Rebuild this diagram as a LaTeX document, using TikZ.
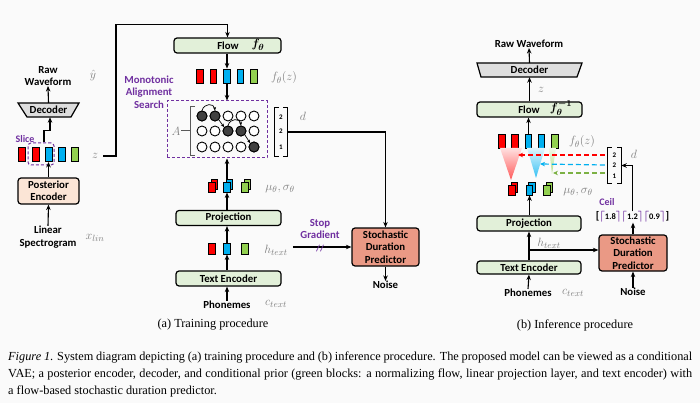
\documentclass[tikz,border=0pt]{standalone}
\usepackage{fontspec}
\usepackage{amsmath,bm}
\setmainfont{Carlito}
\newfontfamily\capfont{Liberation Serif}
\usetikzlibrary{arrows.meta,calc,shapes.geometric}
\definecolor{bgc}{RGB}{250,250,250}
\definecolor{boxgreen}{RGB}{226,240,217}
\definecolor{peach}{RGB}{251,229,214}
\definecolor{decgray}{RGB}{222,222,222}
\definecolor{salmon}{RGB}{234,153,133}
\definecolor{mpurple}{RGB}{112,48,160}
\definecolor{labgray}{RGB}{128,128,128}
\definecolor{bred}{RGB}{255,0,0}
\definecolor{bblue}{RGB}{0,176,240}
\definecolor{bgreen}{RGB}{146,208,80}
\definecolor{dotc}{RGB}{64,64,64}
\newcommand\lbl{\fontsize{10.8}{12.5}\selectfont\bfseries}
\newcommand\mlb{\fontsize{12.5}{14}\selectfont}
\newcommand\capsz{\capfont\fontsize{12.3}{14}\selectfont}
\newcommand\cl[1]{\textcolor{mpurple}{$\bm{\lceil}$}{\fontsize{8.5}{9}\selectfont #1}\textcolor{mpurple}{$\bm{\rceil}$}}
\newcommand\mubar[4]{%
  \node[bar, minimum height=10pt, fill=#4] (#1b) at (#2+2.5,#3-2.5) {};
  \node[bar, minimum height=10pt, fill=#4] (#1) at (#2,#3) {};}
\tikzset{
 blk/.style={draw, line width=1.2pt, rounded corners=3pt, font=\lbl, inner sep=0pt, align=center},
 gbox/.style={blk, fill=boxgreen, minimum width=105pt, minimum height=15pt},
 arr/.style={-{Stealth[length=5.5pt,width=4.5pt]}, line width=1.1pt},
 thinarr/.style={-{Stealth[length=3.5pt,width=3pt]}, line width=0.7pt},
 lab/.style={font=\lbl, align=center, inner sep=0pt},
 plab/.style={lab, text=mpurple},
 mlab/.style={text=labgray, font=\mlb, inner sep=0pt},
 bar/.style={draw, line width=0.9pt, minimum width=6.5pt, minimum height=14pt, inner sep=0pt},
 sbar/.style={bar, minimum height=11pt},
 dot/.style={circle, draw, line width=0.9pt, minimum size=10pt, inner sep=0pt, fill=white},
 fdot/.style={dot, fill=dotc},
 dsh/.style={draw=mpurple, line width=1pt, dash pattern=on 3pt off 2pt, inner sep=0pt},
 num/.style={font=\fontsize{7}{7}\selectfont\bfseries, inner sep=0pt},
 cdash/.style={-{Stealth[length=5pt,width=4.5pt]}, line width=1.2pt, dash pattern=on 5pt off 3pt},
}
\begin{document}
\begin{tikzpicture}[x=1pt,y=-1pt]
\useasboundingbox (0,0) rectangle (700,403);
\fill[bgc] (0,0) rectangle (700,403);
% ---------------- left (posterior) ----------------
\node[lab] (rawL) at (48,76) {Raw\\Waveform};
\node[mlab] (yh) at (93,76) {$\hat{y}$};
\draw[line width=1.2pt, fill=decgray] (18,103) -- (79,103) -- (71,117) -- (27,117) -- cycle;
\node[lab, minimum width=52pt, minimum height=14pt] (decL) at (48.5,110) {Decoder};
\draw[arr] (decL.north) -- (rawL.south);
\foreach \n/\x/\c in {l1/22/bred, l2/36/bred, l3/49/bblue, l4/62/bblue, l5/75/bgreen}
  \node[bar, fill=\c] (\n) at (\x,154.5) {};
\node[dsh, rounded corners=3pt, minimum width=26pt, minimum height=22pt] (slicebox) at (41,154) {};
\node[plab, font=\fontsize{10}{12}\selectfont\bfseries] (slice) at (25,139) {Slice};
\draw[arr] ([xshift=3pt]slicebox.north) -- ++(0,-12) -| ([xshift=1.5pt]decL.south);
\node[mlab] (zL) at (95,156) {$z$};
\node[blk, fill=peach, minimum width=61pt, minimum height=26pt] (pe) at (48.5,191) {Posterior\\Encoder};
\draw[arr] (pe.north) -- (pe.north |- l3.south);
\node[lab] (spec) at (48,237) {Linear\\Spectrogram};
\draw[arr] (spec.north) -- (pe.south);
\node[mlab] (xlin) at (95,238) {$x_{lin}$};
% ---------------- middle (training) ----------------
\node[gbox, minimum width=107pt] (flowM) at (227.5,45.5) {};
\node[lab] (flowMt) at (228,45.5) {Flow};
\node[inner sep=0pt, font=\fontsize{13}{13}\selectfont] (fth) at (258,45) {$\bm{f_\theta}$};
\draw[arr] ([xshift=5pt]zL.east) -- (116,156) |- ($(flowM.north)+(0,-13)$) -- (flowM.north);
\foreach \n/\x/\c in {m1/200/bred, m2/213.5/bred, m3/227/bblue, m4/240.5/bblue, m5/254/bgreen}
  \node[bar, fill=\c] (\n) at (\x,76) {};
\draw[arr] (m3.north |- flowM.south) -- (m3.north);
\node[mlab] (fzM) at (284,78) {$f_\theta(z)$};
\node[plab] (mas) at (149,92) {Monotonic\\Alignment\\Search};
\node[dsh, minimum width=100pt, minimum height=57pt] (masbox) at (217,129.5) {};
\draw[arr] (m3.south) -- (m3.south |- masbox.north);
\node[mlab] (A) at (176,131) {$A$};
\draw[line width=1pt, black!65] (195,107) -- (190,107) -- (190,156) -- (195,156) (190,131) -- (A.east);
\foreach \r/\y in {1/116,2/131,3/147}
  \foreach \c/\x in {1/202,2/215,3/228,4/241,5/254}
    \node[dot] (c\r\c) at (\x,\y) {};
\node[fdot] (c11) at (202,116) {};
\node[fdot] (c12) at (215,116) {};
\node[fdot] (c23) at (228,131) {};
\node[fdot] (c24) at (241,131) {};
\node[fdot] (c35) at (254,147) {};
\draw[thinarr] (c11.north) .. controls (204,103) and (214,103) .. (c12.north);
\draw[thinarr] (c12.south east) -- (c23.north west);
\draw[thinarr] (c23.north) .. controls (230,118) and (240,118) .. (c24.north);
\draw[thinarr] (c24.south east) -- (c35.north west);
\node[minimum width=12pt, minimum height=48pt, inner sep=0pt] (dvec) at (281,132) {};
\node[num] (dv1) at (281,117) {2};
\node[num] (dv2) at (281,131) {2};
\node[num] (dv3) at (281,147) {1};
\draw[line width=1.1pt] ([xshift=4pt]dvec.north west) -- (dvec.north west) -- (dvec.south west) -- ([xshift=4pt]dvec.south west);
\draw[line width=1.1pt] ([xshift=-4pt]dvec.north east) -- (dvec.north east) -- (dvec.south east) -- ([xshift=-4pt]dvec.south east);
\node[mlab] (dM) at (303,116) {$d$};
\mubar{mu1}{212}{187}{bred}
\mubar{mu2}{227}{187}{bblue}
\mubar{mu3}{245}{187}{bgreen}
\node[mlab] (muM) at (280,189) {$\mu_\theta, \sigma_\theta$};
\draw[arr] (mu2b.north -| mu2) -- (mu2.north |- masbox.south);
\node[gbox] (projM) at (228.5,218) {Projection};
\draw[arr] (mu2.south |- projM.north) -- (mu2.south);
\foreach \n/\x/\c in {h1/212/bred, h2/227/bblue, h3/245/bgreen}
  \node[sbar, fill=\c] (\n) at (\x,248.5) {};
\draw[arr] (h2.north) -- (h2.north |- projM.south);
\node[mlab] (hM) at (276,250) {$h_{text}$};
\node[gbox] (teM) at (228.5,278.5) {Text Encoder};
\draw[arr] (h2.south |- teM.north) -- (h2.south);
\node[lab] (phM) at (227,305) {Phonemes};
\draw[arr] (phM.north) -- (phM.north |- teM.south);
\node[mlab] (ctM) at (276,304) {$c_{text}$};
\node[blk, fill=salmon, minimum width=67pt, minimum height=38pt] (sdpM) at (385.5,247) {Stochastic\\Duration\\Predictor};
\draw[arr] (dvec.east) -| (sdpM.north);
\draw[arr] ([xshift=5pt]hM.east |- sdpM.west) -- (sdpM.west);
\node[plab] (stopg) at (320,229) {Stop\\Gradient};
\node[inner sep=0pt, text=mpurple, font=\fontsize{9}{9}\selectfont\bfseries] (slash) at (320,249) {//};
\node[lab] (noiseM) at (385.5,285) {Noise};
\draw[arr] (sdpM.south) -- (noiseM.north);
% ---------------- right (inference) ----------------
\node[lab] (rawR) at (529,44) {Raw Waveform};
\draw[line width=1.2pt, fill=decgray] (477,63) -- (582,63) -- (577,77) -- (481,77) -- cycle;
\node[lab, minimum width=96pt, minimum height=14pt] (decR) at (529.5,70) {Decoder};
\draw[arr] (decR.north) -- (rawR.south);
\node[gbox] (flowR) at (529.5,109.5) {};
\node[lab] (flowRt) at (529,109.5) {Flow};
\node[inner sep=0pt, font=\fontsize{13}{13}\selectfont] (fthinv) at (561,108) {$\bm{f_\theta^{-1}}$};
\draw[arr] (flowR.north) -- (decR.south);
\node[mlab] (zR) at (541,90) {$z$};
\foreach \n/\x/\c in {r1/502/bred, r2/515/bred, r3/528.5/bblue, r4/541.5/bblue, r5/555/bgreen}
  \node[bar, fill=\c] (\n) at (\x,141) {};
\draw[arr] (r3.north) -- (r3.north |- flowR.south);
\node[mlab] (fzR) at (582,142) {$f_\theta(z)$};
% shaded fans
\shade[top color=bred!12, bottom color=bred!65] (500,148) -- (522,148) -- (511,180) -- cycle;
\shade[top color=bblue!12, bottom color=bblue!80] (527,148) -- (545,148) -- (536,178) -- cycle;
\shade[top color=bgreen!12, bottom color=bgreen!70] (549,148) -- (556,148) -- (552,174) -- cycle;
\node[minimum width=13pt, minimum height=35pt, inner sep=0pt] (dvecR) at (614.5,165.5) {};
\node[num] (dr1) at (614.5,155) {2};
\node[num] (dr2) at (614.5,165) {2};
\node[num] (dr3) at (614.5,176) {1};
\draw[line width=1.1pt] ([xshift=4pt]dvecR.north west) -- (dvecR.north west) -- (dvecR.south west) -- ([xshift=4pt]dvecR.south west);
\draw[line width=1.1pt] ([xshift=-4pt]dvecR.north east) -- (dvecR.north east) -- (dvecR.south east) -- ([xshift=-4pt]dvecR.south east);
\node[mlab] (dR) at (634,154) {$d$};
\draw[cdash, color=bred] ([xshift=-3pt]dvecR.west |- dr1) -- (518,155);
\draw[cdash, color=bblue] ([xshift=-3pt]dvecR.west |- dr2) -- (540,164);
\draw[cdash, color=bgreen!85!black] ([xshift=-3pt]dvecR.west |- 0,173) -- (553,173);
\mubar{nu1}{512}{190}{bred}
\mubar{nu2}{529.5}{190}{bblue}
\mubar{nu3}{547}{190}{bgreen}
\node[mlab] (muR) at (578,192) {$\mu_\theta, \sigma_\theta$};
\node[gbox, minimum width=104pt] (projR) at (529,223.5) {Projection};
\draw[arr] (nu2.south |- projR.north) -- (nu2.south);
\node[gbox, minimum width=104pt, minimum height=13pt] (teR) at (529,267.5) {Text Encoder};
\draw[arr] (teR.north) -- (projR.south);
\coordinate (brR) at (529,250);
\node[mlab] (hR) at (549,243) {$h_{text}$};
\node[lab] (phR) at (528,293) {Phonemes};
\draw[arr] (phR.north) -- (teR.south);
\node[mlab] (ctR) at (573,293) {$c_{text}$};
\node[blk, fill=salmon, minimum width=68pt, minimum height=36pt] (sdpR) at (633,253) {Stochastic\\Duration\\Predictor};
\draw[arr] (brR) -- (brR -| sdpR.west);
\node[lab] (noiseR) at (633,292) {Noise};
\draw[arr] (noiseR.north) -- (sdpR.south);
\node[inner sep=0pt, font=\fontsize{11}{11}\selectfont\bfseries] (ceilR) at (632.5,217) {[\cl{1.8}\cl{1.2}\cl{0.9}]};
\node[plab, font=\fontsize{10}{12}\selectfont\bfseries] (ceilt) at (607,202) {Ceil};
\draw[arr] (sdpR.north) -- (sdpR.north |- ceilR.south);
\draw[arr] (ceilR.north) |- (dvecR.east);
% ---------------- captions ----------------
\node[inner sep=0pt, font=\capsz] (capa) at (213,325) {(a) Training procedure};
\node[inner sep=0pt, font=\capsz] (capb) at (575,325) {(b) Inference procedure};
\node[inner sep=0pt, anchor=west, font=\capsz] (cap1) at (8,357) {\makebox[684pt][s]{\textit{Figure 1}. System diagram depicting (a) training procedure and (b) inference procedure. The proposed model can be viewed as a conditional}};
\node[inner sep=0pt, anchor=west, font=\capsz] (cap2) at (8,374) {\makebox[684pt][s]{VAE; a posterior encoder, decoder, and conditional prior (green blocks: a normalizing flow, linear projection layer, and text encoder) with}};
\node[inner sep=0pt, anchor=west, font=\capsz] (cap3) at (8,391) {a flow-based stochastic duration predictor.};
\end{tikzpicture}
\end{document}
